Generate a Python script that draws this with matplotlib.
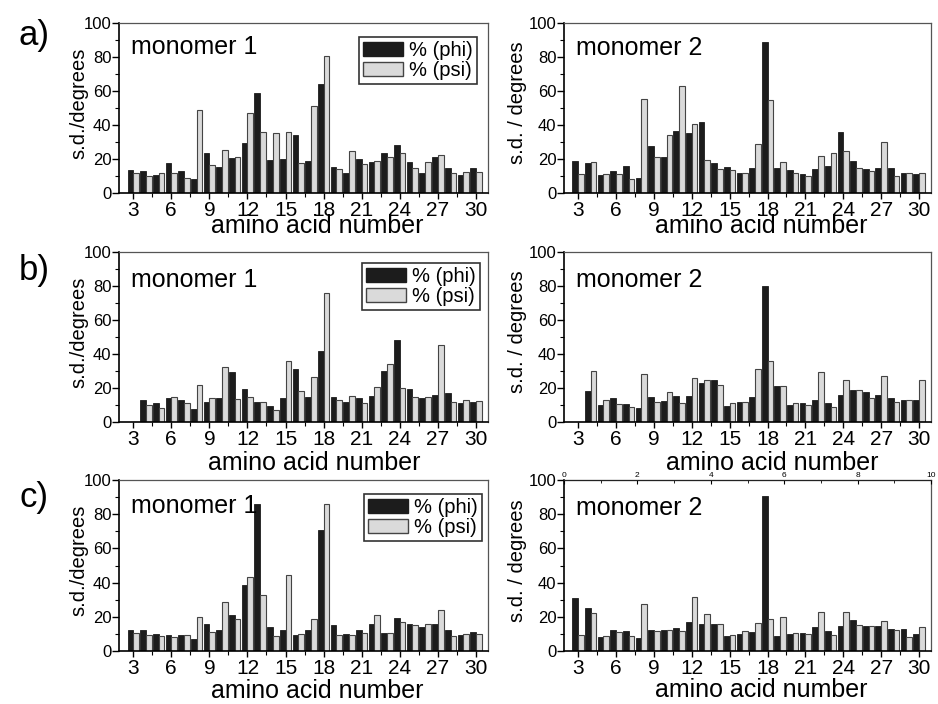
import numpy as np
import matplotlib
matplotlib.use("Agg")
import matplotlib.pyplot as plt
from matplotlib.patches import Patch
from matplotlib.ticker import MultipleLocator

plt.rcParams['font.family'] = ['Liberation Sans', 'DejaVu Sans']
plt.rcParams['legend.fancybox'] = False

# residue numbers on the x axis
residues = [3, 4, 5, 6, 7, 8, 9, 10, 11, 12, 13, 14, 15, 16,
            17, 18, 19, 20, 21, 22, 23, 24, 25, 26, 27, 28, 29, 30]

# a) monomer 1 / monomer 2
phi_a1 = [13.5, 13, 10.5, 17.5, 13, 8.5, 23.5, 15.5, 20.5, 29.5, 59, 19.5, 20, 34,
          19, 64, 15.5, 12, 20, 18.5, 23.5, 28.5, 18, 12, 21, 15, 10.5, 14.5]
psi_a1 = [12, 10, 11.5, 11.5, 9, 49, 16.5, 25.5, 21, 47, 36, 35.5, 36, 17.5,
          51, 80.5, 14, 24.5, 17, 19, 21, 23.5, 15, 18.5, 22.5, 12, 12.5, 12.5]
phi_a2 = [19, 17.5, 10.5, 13, 16, 9, 27.5, 21, 36.5, 35.5, 41.5, 17.5, 15.5, 12,
          15, 89, 15, 13.5, 11, 14, 16, 36, 19, 14, 15, 14.5, 11.5, 11]
psi_a2 = [11, 18.5, 11, 11, 8, 55.5, 21, 34, 63, 40.5, 19.5, 14, 13.5, 11.5,
          29, 55, 18.5, 11.5, 10, 21.5, 23.5, 24.5, 15, 13, 30, 10, 11.5, 12]

# b) monomer 1 / monomer 2
phi_b1 = [0, 13, 11, 14, 13, 7.5, 12, 14, 29.5, 19.5, 12, 9.5, 14, 31,
          15, 42, 15, 11.5, 14, 15.5, 30, 48.5, 19.5, 14, 16, 17, 11, 12]
psi_b1 = [0, 10, 8.5, 14.5, 11, 22, 14, 32.5, 13.5, 15, 12, 7, 36, 18,
          26.5, 76, 13, 15.5, 11, 20.5, 34, 20, 14.5, 14.5, 45.5, 12, 13, 12.5]
phi_b2 = [0, 18, 10, 14, 10.5, 8, 15, 12.5, 15.5, 15.5, 23, 24.5, 9.5, 12,
          15, 80, 21, 10, 11, 13, 11, 16, 19, 17.5, 16, 14, 13, 13]
psi_b2 = [0, 30, 13, 10.5, 9, 28.5, 12, 17.5, 11, 26, 24.5, 22, 11, 12,
          31, 36, 21, 11, 10, 29.5, 9, 24.5, 19, 14, 27, 11.5, 13, 24.5]

# c) monomer 1 / monomer 2
phi_c1 = [12, 12, 10, 9.5, 9.5, 7, 16, 12, 21, 38.5, 86, 14, 12.5, 9.5,
          12.5, 70.5, 15, 10, 12, 16, 10.5, 19.5, 16, 14, 15.5, 12, 9.5, 11]
psi_c1 = [10.5, 9.5, 9, 8, 9.5, 20, 11, 28.5, 18.5, 43, 32.5, 9, 44.5, 10,
          18.5, 86, 9.5, 9.5, 10.5, 21, 10.5, 17, 15, 16, 24, 8.5, 10, 10]
phi_c2 = [31, 25, 8, 12.5, 11.5, 7.5, 12.5, 12.5, 13.5, 17, 15.5, 16, 8.5, 10,
          11, 90.5, 9, 10, 10.5, 14, 11.5, 14.5, 18, 14.5, 14.5, 13, 13, 10]
psi_c2 = [9.5, 22, 9, 11, 8.5, 27.5, 11.5, 12, 11.5, 31.5, 21.5, 16, 9.5, 11.5,
          16.5, 19, 20, 10.5, 10, 23, 9.5, 23, 15, 14.5, 17.5, 12.5, 8, 14]

PHI_COL = '#1c1c1c'
PSI_COL = '#dadada'
PSI_EDGE = '#444444'
W = 0.45

fig = plt.figure(figsize=(9.38, 7.04), dpi=100)

# axes boxes in figure pixels: (left, top, right, bottom)
boxes = {
    'a1': (119, 23, 488, 193), 'a2': (564, 23, 931, 193),
    'b1': (119, 252, 488, 422), 'b2': (564, 252, 931, 422),
    'c1': (119, 480, 488, 651), 'c2': (564, 480, 931, 651),
}


def make_axes(key):
    l, t, r, b = boxes[key]
    return fig.add_axes([l / 938, 1 - b / 704, (r - l) / 938, (b - t) / 704])


def panel(key, phi, psi, title, ylab, xlab_pos, title_y, legend=None):
    ax = make_axes(key)
    x = np.array(residues)
    ax.bar(x - W / 2, phi, W, color=PHI_COL, edgecolor=PHI_COL, linewidth=0.6)
    ax.bar(x + W / 2, psi, W, color=PSI_COL, edgecolor=PSI_EDGE, linewidth=0.8)
    ax.set_xlim(1.88, 30.95)
    ax.set_ylim(0, 100)
    ax.xaxis.set_major_locator(MultipleLocator(3))
    ax.xaxis.set_minor_locator(MultipleLocator(1.5))
    ax.yaxis.set_major_locator(MultipleLocator(20))
    ax.yaxis.set_minor_locator(MultipleLocator(10))
    ax.tick_params(axis='x', which='major', direction='out', length=4, width=1,
                   labelsize=15, pad=1.5, top=False)
    ax.tick_params(axis='x', which='minor', direction='out', length=3, width=0.8, top=False)
    ax.tick_params(axis='y', which='major', direction='out', length=5, width=1,
                   labelsize=12, pad=0.5, right=False)
    ax.tick_params(axis='y', which='minor', direction='out', length=3, width=0.8, right=False)
    for s in ('left', 'bottom'):
        ax.spines[s].set_color('black')
        ax.spines[s].set_linewidth(1.2)
    for s in ('top', 'right'):
        ax.spines[s].set_color('#555555')
        ax.spines[s].set_linewidth(0.9)
    ax.text(0.032, title_y, title, transform=ax.transAxes, fontsize=18,
            ha='left', va='baseline')
    ax.text(-0.108 if key.endswith('1') else -0.126, 0.53, ylab, transform=ax.transAxes,
            rotation=90, ha='center', va='center', fontsize=14.5)
    ax.text(xlab_pos[0], xlab_pos[1], 'amino acid number', transform=ax.transAxes,
            ha='center', va='baseline', fontsize=18)
    if legend is not None:
        handles = [Patch(facecolor=PHI_COL, edgecolor=PHI_COL),
                   Patch(facecolor=PSI_COL, edgecolor=PSI_EDGE)]
        leg = ax.legend(handles, ['% (phi)', '% (psi)'], loc='upper right',
                        bbox_to_anchor=legend, fontsize=14.5, handlelength=2.0,
                        handleheight=0.7, handletextpad=0.3, borderpad=0.2,
                        labelspacing=0.05, borderaxespad=0, framealpha=1)
        leg.get_frame().set_edgecolor('#333333')
        leg.get_frame().set_linewidth(1.2)
    return ax


panel('a1', phi_a1, psi_a1, 'monomer 1', 's.d./degrees', (0.537, -0.236), 0.815,
      legend=(0.97, 0.918))
panel('a2', phi_a2, psi_a2, 'monomer 2', 's.d. / degrees', (0.537, -0.236), 0.81)
panel('b1', phi_b1, psi_b1, 'monomer 1', 's.d./degrees', (0.528, -0.282), 0.794,
      legend=(0.978, 0.935))
panel('b2', phi_b2, psi_b2, 'monomer 2', 's.d. / degrees', (0.567, -0.282), 0.794)
panel('c1', phi_c1, psi_c1, 'monomer 1', 's.d./degrees', (0.537, -0.275), 0.807,
      legend=(0.983, 0.918))
ax_c2 = panel('c2', phi_c2, psi_c2, 'monomer 2', 's.d. / degrees', (0.537, -0.27), 0.795)

# stray secondary axis on the last panel
top = ax_c2.twiny()
top.set_xlim(0, 10)
top.xaxis.set_major_locator(MultipleLocator(2))
top.xaxis.set_minor_locator(MultipleLocator(1))
top.tick_params(axis='x', which='major', direction='in', length=3, labelsize=6, pad=1)
top.tick_params(axis='x', which='minor', direction='in', length=2)
top.spines['top'].set_color('#222222')
for s in ('left', 'right', 'bottom'):
    top.spines[s].set_visible(False)

fig.text(0.036, 0.949, 'a)', fontsize=25, ha='center', va='center')
fig.text(0.036, 0.616, 'b)', fontsize=25, ha='center', va='center')
fig.text(0.036, 0.293, 'c)', fontsize=25, ha='center', va='center')

fig.savefig('out.png', dpi=100)
